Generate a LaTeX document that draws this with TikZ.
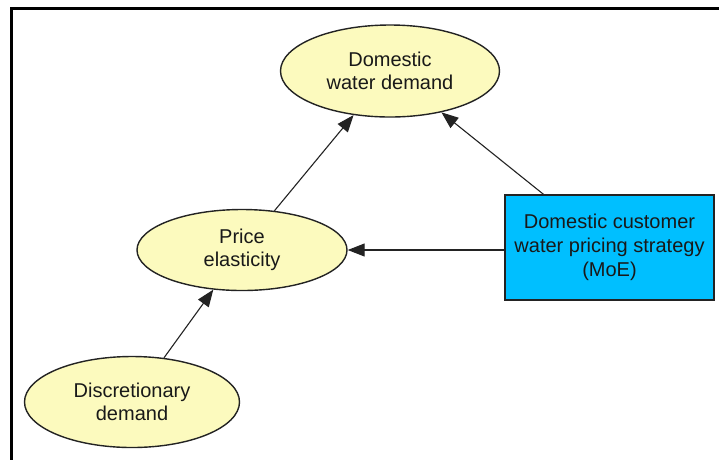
\documentclass[tikz,border=0pt]{standalone}
\usepackage{fontspec}
\setmainfont{Liberation Sans}
\usetikzlibrary{shapes.geometric,arrows.meta}
\definecolor{ellfill}{RGB}{252,250,190}
\definecolor{boxfill}{RGB}{0,191,255}
\definecolor{edge}{RGB}{35,35,35}
\tikzset{
  ell/.style={ellipse, draw=edge, line width=1.4pt, fill=ellfill, inner sep=0pt,
    align=center, font=\fontsize{20}{23}\selectfont, text=black!90},
  sbox/.style={rectangle, draw=edge, line width=1.4pt, fill=boxfill, inner sep=0pt,
    align=center, font=\fontsize{20}{24}\selectfont, text=black!90},
  link/.style={draw=edge, line width=1.1pt, -{Triangle[length=17pt,width=13pt]}},
}
\begin{document}
\begin{tikzpicture}[x=1pt,y=-1pt]
\useasboundingbox (0,0) rectangle (719,459);
\fill[white] (0,0) rectangle (719,459);
\draw[black, line width=3pt] (11,460) -- (11,8.5) -- (720,8.5);
\node[ell, minimum width=219pt, minimum height=92pt] (dom) at (390,71) {Domestic\\water demand};
\node[ell, minimum width=210pt, minimum height=81pt] (pe) at (242,250) {Price\\elasticity};
\node[ell, minimum width=215pt, minimum height=91pt] (dd) at (132,402) {Discretionary\\demand};
\node[sbox, minimum width=209pt, minimum height=105pt] (ps) at (609.5,247.5) {Domestic customer\\water pricing strategy\\(MoE)};
\draw[link] (ps) -- (dom);
\draw[link] (ps.west |- pe.east) -- (pe.east);
\draw[link] (pe) -- (dom);
\draw[link] (dd) -- (pe);
\end{tikzpicture}
\end{document}
